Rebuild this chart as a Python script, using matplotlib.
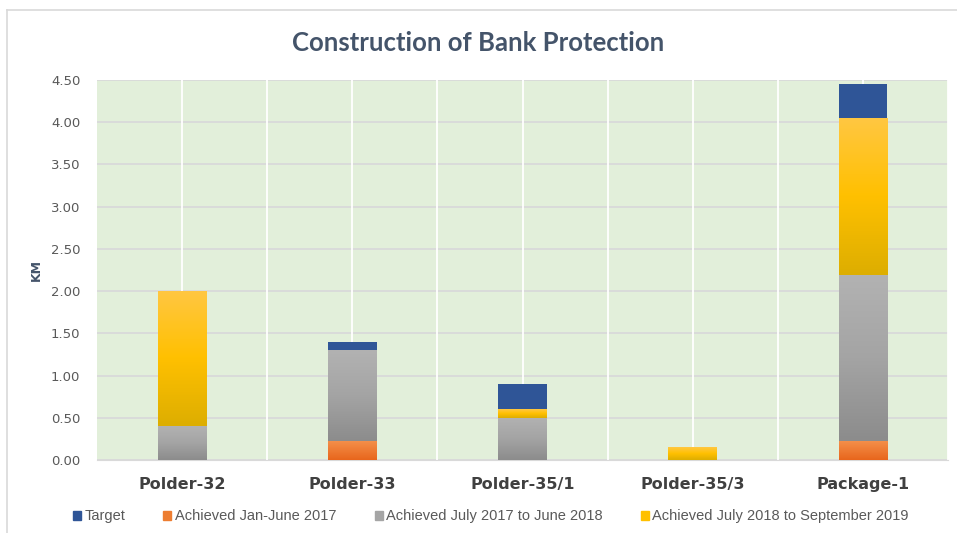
import numpy as np
import matplotlib
matplotlib.use("Agg")
import matplotlib.pyplot as plt
from matplotlib.colors import LinearSegmentedColormap
from matplotlib.patches import Patch
from matplotlib.lines import Line2D

plt.rcParams['font.family'] = ['DejaVu Sans']

# data
categories = ["Polder-32", "Polder-33", "Polder-35/1", "Polder-35/3", "Package-1"]
achieved_2017 = [0.00, 0.23, 0.00, 0.00, 0.23]
achieved_17_18 = [0.40, 1.07, 0.50, 0.00, 1.96]
achieved_18_19 = [1.60, 0.00, 0.10, 0.15, 1.86]
target = [0.00, 0.10, 0.30, 0.00, 0.40]
yticks = [0.0, 0.5, 1.0, 1.5, 2.0, 2.5, 3.0, 3.5, 4.0, 4.5]

BG = "#E2EFDA"
TXT = "#44546A"

fig = plt.figure(figsize=(9.57, 5.33), dpi=100)
fig.patch.set_facecolor("white")
# chart frame (left and top edge visible)
fig.add_artist(Line2D([7.5 / 957, 7.5 / 957], [0, 1 - 10 / 533], transform=fig.transFigure,
                      color="#D9D9D9", linewidth=1.2))
fig.add_artist(Line2D([7.5 / 957, 1], [1 - 10 / 533, 1 - 10 / 533], transform=fig.transFigure,
                      color="#D9D9D9", linewidth=1.2))

ax = fig.add_axes([0.1014, 0.137, 0.8892, 0.713])
ax.set_facecolor(BG)

x = np.arange(len(categories))
w = 0.286

# gradient colour maps (bottom -> top)
grad = {
    "orange": LinearSegmentedColormap.from_list("o", ["#E8661C", "#F4914C"]),
    "gray": LinearSegmentedColormap.from_list("g", ["#8C8C8C", "#A4A4A4", "#B2B2B2"]),
    "yellow": LinearSegmentedColormap.from_list("y", ["#DDAE00", "#FFC000", "#FFC742"]),
}

def grad_bars(vals, bottoms, cmap, solid):
    bars = ax.bar(x, vals, w, bottom=bottoms, color=solid, zorder=3, linewidth=0)
    for b, v in zip(bars, vals):
        if v <= 0:
            continue
        x0, y0 = b.get_x(), b.get_y()
        img = ax.imshow(np.linspace(0, 1, 100).reshape(-1, 1), cmap=cmap, aspect="auto",
                        origin="lower", extent=[x0, x0 + b.get_width(), y0, y0 + b.get_height()],
                        zorder=4)
        img.set_clip_path(b)
    return bars

b0 = np.zeros(len(x))
grad_bars(achieved_2017, b0, grad["orange"], "#ED7D31")
b1 = b0 + np.array(achieved_2017)
grad_bars(achieved_17_18, b1, grad["gray"], "#A5A5A5")
b2 = b1 + np.array(achieved_17_18)
grad_bars(achieved_18_19, b2, grad["yellow"], "#FFC000")
b3 = b2 + np.array(achieved_18_19)
ax.bar(x, target, w, bottom=b3, color="#2F5597", zorder=5, linewidth=0)

handles = [Patch(color="#2F5597", label="Target"),
           Patch(color="#ED7D31", label="Achieved Jan-June 2017"),
           Patch(color="#A5A5A5", label="Achieved July 2017 to June 2018"),
           Patch(color="#FFC000", label="Achieved July 2018 to September 2019")]

ax.set_xlim(-0.5, len(x) - 0.5)
ax.set_ylim(0, 4.5)
ax.set_yticks(yticks)
ax.set_yticklabels([f"{v:.2f}" for v in yticks], fontsize=9.5, color="#595959")
ax.set_xticks(x)
ax.set_xticklabels(categories, fontsize=11.5, fontweight="bold", color="#404040")
ax.tick_params(length=0, pad=12, axis="y")
ax.tick_params(length=0, pad=12, axis="x")
for s in ["top", "right", "left"]:
    ax.spines[s].set_visible(False)
ax.spines["bottom"].set_color("#D9D9D9")

# grid: horizontal light grey, vertical white at half-category steps
ax.yaxis.grid(True, color="#D9D9D9", linewidth=1.3, zorder=1)
for gx in np.arange(-0.5, len(x), 0.5)[1:]:
    ax.axvline(gx, color="white", linewidth=1.3, zorder=1)
ax.set_axisbelow(True)

ax.set_ylabel("KM", fontsize=9, fontweight="bold", color=TXT, labelpad=6)
fig.text(0.5, 1 - 43 / 533, "Construction of Bank Protection", ha="center", va="center",
         fontsize=18.5, fontweight="bold", color=TXT, family=["Lato", "DejaVu Sans"])

leg = fig.legend(handles=handles, loc="center", bbox_to_anchor=(0.513, 0.031), ncol=4,
                 frameon=False, handlelength=0.55, handleheight=0.55,
                 handletextpad=0.25, columnspacing=2.6,
                 prop={"family": ["Liberation Sans Narrow", "Liberation Sans"], "size": 10.5})
for t in leg.get_texts():
    t.set_color("#595959")

fig.savefig("out.png", dpi=100)
